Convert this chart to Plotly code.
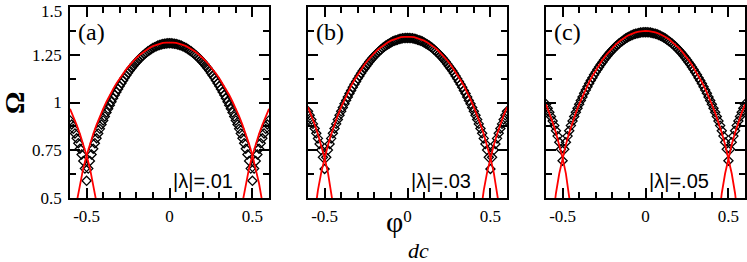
import plotly.graph_objects as go

# ---------------- data ----------------
phi = [round(-0.60 + 0.01 * i, 2) for i in range(121)]          # phi_dc grid of the symbols
phi_red = [round(-0.56 + 0.02 * i, 2) for i in range(57)]       # grid of the central red curve
phi_red_left = [-0.60, -0.58, -0.56, -0.54, -0.52, -0.50, -0.48, -0.46, -0.44]
phi_red_right = [0.44, 0.46, 0.48, 0.50, 0.52, 0.54, 0.56, 0.58, 0.60]

omega_a = [
    0.906, 0.885, 0.862, 0.838, 0.813, 0.787, 0.758, 0.728, 0.694, 0.654,
    0.590,
    0.654, 0.694, 0.728, 0.758, 0.787, 0.813, 0.838, 0.862, 0.885, 0.906,
    0.927, 0.948, 0.967, 0.986, 1.004, 1.022, 1.039, 1.055, 1.071, 1.086,
    1.101, 1.115, 1.129, 1.142, 1.155, 1.167, 1.179, 1.190, 1.201, 1.211,
    1.220, 1.230, 1.238, 1.246, 1.254, 1.261, 1.268, 1.274, 1.280, 1.285,
    1.290, 1.294, 1.298, 1.301, 1.304, 1.306, 1.308, 1.309, 1.310,
    1.310,
    1.310, 1.309, 1.308, 1.306, 1.304, 1.301, 1.298, 1.294, 1.290,
    1.285, 1.280, 1.274, 1.268, 1.261, 1.254, 1.246, 1.238, 1.230, 1.220,
    1.211, 1.201, 1.190, 1.179, 1.167, 1.155, 1.142, 1.129, 1.115, 1.101,
    1.086, 1.071, 1.055, 1.039, 1.022, 1.004, 0.986, 0.967, 0.948, 0.927,
    0.906, 0.885, 0.862, 0.838, 0.813, 0.787, 0.758, 0.728, 0.694, 0.654,
    0.590,
    0.654, 0.694, 0.728, 0.758, 0.787, 0.813, 0.838, 0.862, 0.885, 0.906,
]
omega_b = [
    0.954, 0.933, 0.911, 0.888, 0.864, 0.839, 0.812, 0.783, 0.751, 0.713,
    0.652,
    0.713, 0.751, 0.783, 0.812, 0.839, 0.864, 0.888, 0.911, 0.933, 0.954,
    0.974, 0.993, 1.011, 1.029, 1.047, 1.063, 1.080, 1.095, 1.110, 1.125,
    1.139, 1.153, 1.166, 1.178, 1.190, 1.202, 1.213, 1.224, 1.234, 1.243,
    1.253, 1.261, 1.270, 1.277, 1.285, 1.292, 1.298, 1.304, 1.309, 1.314,
    1.319, 1.323, 1.326, 1.329, 1.332, 1.334, 1.336, 1.337, 1.338,
    1.338,
    1.338, 1.337, 1.336, 1.334, 1.332, 1.329, 1.326, 1.323, 1.319,
    1.314, 1.309, 1.304, 1.298, 1.292, 1.285, 1.277, 1.270, 1.261, 1.253,
    1.243, 1.234, 1.224, 1.213, 1.202, 1.190, 1.178, 1.166, 1.153, 1.139,
    1.125, 1.110, 1.095, 1.080, 1.063, 1.047, 1.029, 1.011, 0.993, 0.974,
    0.954, 0.933, 0.911, 0.888, 0.864, 0.839, 0.812, 0.783, 0.751, 0.713,
    0.652,
    0.713, 0.751, 0.783, 0.812, 0.839, 0.864, 0.888, 0.911, 0.933, 0.954,
]
omega_c = [
    0.991, 0.970, 0.949, 0.927, 0.903, 0.879, 0.852, 0.824, 0.792, 0.755,
    0.695,
    0.755, 0.792, 0.824, 0.852, 0.879, 0.903, 0.927, 0.949, 0.970, 0.991,
    1.010, 1.029, 1.048, 1.065, 1.082, 1.099, 1.115, 1.130, 1.145, 1.159,
    1.173, 1.186, 1.199, 1.211, 1.223, 1.234, 1.245, 1.256, 1.266, 1.275,
    1.284, 1.293, 1.301, 1.309, 1.316, 1.322, 1.329, 1.335, 1.340, 1.345,
    1.349, 1.353, 1.357, 1.360, 1.362, 1.364, 1.366, 1.367, 1.368,
    1.368,
    1.368, 1.367, 1.366, 1.364, 1.362, 1.360, 1.357, 1.353, 1.349,
    1.345, 1.340, 1.335, 1.329, 1.322, 1.316, 1.309, 1.301, 1.293, 1.284,
    1.275, 1.266, 1.256, 1.245, 1.234, 1.223, 1.211, 1.199, 1.186, 1.173,
    1.159, 1.145, 1.130, 1.115, 1.099, 1.082, 1.065, 1.048, 1.029, 1.010,
    0.991, 0.970, 0.949, 0.927, 0.903, 0.879, 0.852, 0.824, 0.792, 0.755,
    0.695,
    0.755, 0.792, 0.824, 0.852, 0.879, 0.903, 0.927, 0.949, 0.970, 0.991,
]

red_a = [0.476, 0.576, 0.656, 0.723, 0.782, 0.835, 0.883, 0.927, 0.967, 1.004,
         1.039, 1.070, 1.100, 1.127, 1.152, 1.175, 1.196, 1.216, 1.233, 1.249,
         1.263, 1.275, 1.286, 1.295, 1.302, 1.308, 1.312, 1.314, 1.315,
         1.314, 1.312, 1.308, 1.302, 1.295, 1.286, 1.275, 1.263, 1.249, 1.233,
         1.216, 1.196, 1.175, 1.152, 1.127, 1.100, 1.070, 1.039, 1.004, 0.967,
         0.927, 0.883, 0.835, 0.782, 0.723, 0.656, 0.576, 0.476]
red_b = [0.415, 0.541, 0.634, 0.710, 0.776, 0.834, 0.886, 0.933, 0.976, 1.016,
         1.053, 1.087, 1.118, 1.147, 1.173, 1.198, 1.220, 1.241, 1.259, 1.276,
         1.290, 1.303, 1.314, 1.324, 1.331, 1.337, 1.342, 1.344, 1.345,
         1.344, 1.342, 1.337, 1.331, 1.324, 1.314, 1.303, 1.290, 1.276, 1.259,
         1.241, 1.220, 1.198, 1.173, 1.147, 1.118, 1.087, 1.053, 1.016, 0.976,
         0.933, 0.886, 0.834, 0.776, 0.710, 0.634, 0.541, 0.415]
red_c = [0.380, 0.525, 0.628, 0.710, 0.780, 0.841, 0.896, 0.946, 0.991, 1.033,
         1.071, 1.107, 1.139, 1.169, 1.197, 1.222, 1.246, 1.267, 1.286, 1.303,
         1.318, 1.332, 1.343, 1.353, 1.361, 1.367, 1.371, 1.374, 1.375,
         1.374, 1.371, 1.367, 1.361, 1.353, 1.343, 1.332, 1.318, 1.303, 1.286,
         1.267, 1.246, 1.222, 1.197, 1.169, 1.139, 1.107, 1.071, 1.033, 0.991,
         0.946, 0.896, 0.841, 0.780, 0.710, 0.628, 0.525, 0.380]

red_a_left = [0.967, 0.927, 0.883, 0.835, 0.782, 0.723, 0.656, 0.576, 0.476]
red_a_right = [0.476, 0.576, 0.656, 0.723, 0.782, 0.835, 0.883, 0.927, 0.967]
red_b_left = [0.976, 0.933, 0.886, 0.834, 0.776, 0.710, 0.634, 0.541, 0.415]
red_b_right = [0.415, 0.541, 0.634, 0.710, 0.776, 0.834, 0.886, 0.933, 0.976]
red_c_left = [0.991, 0.946, 0.896, 0.841, 0.780, 0.710, 0.628, 0.525, 0.380]
red_c_right = [0.380, 0.525, 0.628, 0.710, 0.780, 0.841, 0.896, 0.946, 0.991]

panel_labels = ["(a)", "(b)", "(c)"]
lambda_labels = ["|\u03bb|=.01", "|\u03bb|=.03", "|\u03bb|=.05"]
x_tickvals = [-0.5, 0, 0.5]
x_ticktext = ["-0.5", "0", "0.5"]
y_tickvals = [0.5, 0.75, 1.0, 1.25, 1.5]
y_ticktext = ["0.5", "0.75", "1", "1.25", ""]   # the top label "1.5" sits slightly lower, set below
y_top_label = "1.5"

# ---------------- figure ----------------
W, H = 747, 262
ML, MR, MT, MB = 70, 2, 7, 64
PW, PH = W - ML - MR, H - MT - MB
panel_px = [(0, 199), (238, 437), (476, 675)]
SERIF = "Liberation Serif"
SANS = "Liberation Sans"

fig = go.Figure()
panels = [
    (omega_a, red_a, red_a_left, red_a_right),
    (omega_b, red_b, red_b_left, red_b_right),
    (omega_c, red_c, red_c_left, red_c_right),
]
for i, (om, rd, rl, rr) in enumerate(panels):
    xa = "x" if i == 0 else f"x{i+1}"
    ya = "y" if i == 0 else f"y{i+1}"
    fig.add_trace(go.Scatter(x=phi, y=om, mode="markers", xaxis=xa, yaxis=ya,
                             marker=dict(symbol="diamond-open", size=7, color="black",
                                         line=dict(width=1.3, color="black")),
                             showlegend=False, hoverinfo="skip"))
    for xx, yy in ((phi_red, rd), (phi_red_left, rl), (phi_red_right, rr)):
        fig.add_trace(go.Scatter(x=xx, y=yy, mode="lines", xaxis=xa, yaxis=ya,
                                 line=dict(color="red", width=1.8),
                                 showlegend=False, hoverinfo="skip"))

axis_common = dict(ticks="inside", ticklen=10, tickwidth=1.5, tickcolor="black",
                   showline=True, linecolor="black", linewidth=1.5, mirror="ticks",
                   showgrid=False, zeroline=False, automargin=False,
                   ticklabeloverflow="allow",
                   tickfont=dict(family=SERIF, size=17, color="black"))

layout = dict(width=W, height=H, margin=dict(l=ML, r=MR, t=MT, b=MB, autoexpand=False),
              paper_bgcolor="white", plot_bgcolor="white", showlegend=False)
for i, (p0, p1) in enumerate(panel_px):
    xk = "xaxis" if i == 0 else f"xaxis{i+1}"
    yk = "yaxis" if i == 0 else f"yaxis{i+1}"
    xa = "x" if i == 0 else f"x{i+1}"
    ya = "y" if i == 0 else f"y{i+1}"
    layout[xk] = dict(axis_common, domain=[p0 / PW, p1 / PW], range=[-0.6, 0.6], anchor=ya,
                      tickmode="array", tickvals=x_tickvals, ticktext=x_ticktext,
                      ticklabelstandoff=2,
                      minor=dict(ticks="inside", ticklen=6, tickwidth=1.5, tickcolor="black",
                                 tickmode="linear", tick0=0, dtick=0.1, showgrid=False))
    layout[yk] = dict(axis_common, domain=[0, 1], range=[0.5, 1.5], anchor=xa,
                      tickmode="array", tickvals=y_tickvals, ticktext=y_ticktext,
                      showticklabels=(i == 0), ticklabelstandoff=3,
                      minor=dict(ticks="inside", ticklen=6, tickwidth=1.5, tickcolor="black",
                                 tickmode="linear", tick0=0.5, dtick=0.125, showgrid=False))
fig.update_layout(**layout)

ann = []
for i in range(3):
    xa = "x" if i == 0 else f"x{i+1}"
    ya = "y" if i == 0 else f"y{i+1}"
    ann.append(dict(text=panel_labels[i], xref=f"{xa} domain", yref=f"{ya} domain",
                    x=6 / 199, y=(191 - 25) / 191, xanchor="left", yanchor="middle",
                    showarrow=False, font=dict(family=SERIF, size=24, color="black")))
    ann.append(dict(text=lambda_labels[i], xref=f"{xa} domain", yref=f"{ya} domain",
                    x=(199 - 34) / 199, y=(191 - 174) / 191, xanchor="right", yanchor="middle",
                    showarrow=False, font=dict(family=SANS, size=20, color="black")))
ann.append(dict(text=y_top_label, xref="paper", yref="paper", x=(64 - ML) / PW,
                y=(191 - 5) / PH, xanchor="right", yanchor="middle",
                showarrow=False, font=dict(family=SERIF, size=17, color="black")))
ann.append(dict(text="<b>\u03a9</b>", xref="paper", yref="paper", x=(14 - ML) / PW,
                y=(198 - 103) / PH, xanchor="center", yanchor="middle", textangle=-90,
                showarrow=False, font=dict(family=SERIF, size=28, color="black")))
ann.append(dict(text="\u03c6", xref="paper", yref="paper", x=(394 - ML) / PW,
                y=(191 - 215) / PH, xanchor="center", yanchor="middle",
                showarrow=False, font=dict(family=SERIF, size=30, color="black")))
ann.append(dict(text="<i>dc</i>", xref="paper", yref="paper", x=(418 - ML) / PW,
                y=(191 - 243) / PH, xanchor="center", yanchor="middle",
                showarrow=False, font=dict(family=SERIF, size=22, color="black")))
fig.update_layout(annotations=ann)

fig.write_html("out.html", config={"displayModeBar": False},
               post_script="document.body.style.margin='0';document.body.style.overflow='hidden';")
